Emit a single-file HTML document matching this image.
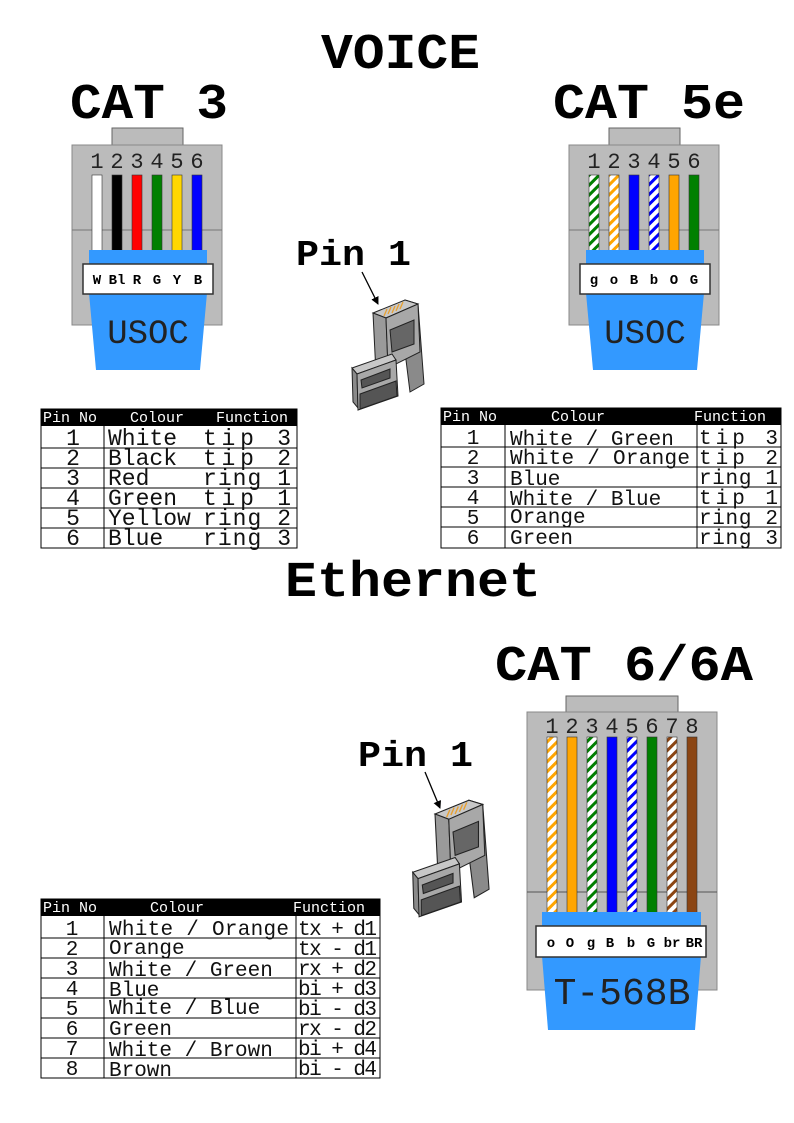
<!DOCTYPE html>
<html><head><meta charset="utf-8"><style>
html,body{margin:0;padding:0;background:#fff}
svg{display:block}
.t{font-family:"Liberation Mono",monospace;font-weight:bold;fill:#000}
.n{font-family:"Liberation Mono",monospace;fill:#222}
.l{font-family:"Liberation Mono",monospace;font-weight:bold;font-size:14px;text-anchor:middle;fill:#000}
.h{font-family:"Liberation Mono",monospace;font-size:15px;fill:#fff;white-space:pre}
.r{font-family:"Liberation Mono",monospace;fill:#111;white-space:pre}
</style></head><body>
<svg width="794" height="1123" viewBox="0 0 794 1123" xmlns="http://www.w3.org/2000/svg">
<defs>
<pattern id="pg" width="7" height="7" patternUnits="userSpaceOnUse" patternTransform="rotate(-45)"><rect width="7" height="7" fill="#fff"/><rect width="7" height="3" fill="#008000"/></pattern>
<pattern id="po" width="7" height="7" patternUnits="userSpaceOnUse" patternTransform="rotate(-45)"><rect width="7" height="7" fill="#fff"/><rect width="7" height="3" fill="#ffa500"/></pattern>
<pattern id="pb" width="7" height="7" patternUnits="userSpaceOnUse" patternTransform="rotate(-45)"><rect width="7" height="7" fill="#fff"/><rect width="7" height="3" fill="#0000ff"/></pattern>
<pattern id="pr" width="7" height="7" patternUnits="userSpaceOnUse" patternTransform="rotate(-45)"><rect width="7" height="7" fill="#fff"/><rect width="7" height="3" fill="#8b4513"/></pattern>
<marker id="ah" markerWidth="8" markerHeight="8" refX="7" refY="4" orient="auto" markerUnits="userSpaceOnUse"><path d="M0,0 L8,4 L0,8 z" fill="#000"/></marker>
<g id="icon">
<polygon points="405,300 418,304 424,384 410,392 406,360" fill="#8a8a8a" stroke="#222" stroke-width="1"/>
<polygon points="373,313 405,300 418,304 386,318" fill="#c8c8c8" stroke="#222" stroke-width="1"/>
<polygon points="373,313 386,318 388,368 376,374" fill="#9a9a9a" stroke="#222" stroke-width="1"/>
<polygon points="386,318 418,304 420,352 388,368" fill="#a8a8a8" stroke="#222" stroke-width="1"/>
<polygon points="390,330 414,320 414,344 392,352" fill="#666" stroke="#222" stroke-width="1"/>
<path d="M384,316 l3,-7 M388,314 l3,-7 M392,313 l3,-7 M396,311 l3,-7 M400,309 l3,-7" stroke="#e8a030" stroke-width="1.3"/>
<polygon points="352,368 392,354 396,360 357,374" fill="#c8c8c8" stroke="#222" stroke-width="1"/>
<polygon points="352,368 357,374 358,408 353,402" fill="#8a8a8a" stroke="#222" stroke-width="1"/>
<polygon points="357,374 396,360 398,396 358,410" fill="#a8a8a8" stroke="#222" stroke-width="1"/>
<polygon points="361,380 390,369 390,378 362,388" fill="#555" stroke="#222" stroke-width="1"/>
<polygon points="360,394 396,381 397,396 360,409" fill="#555" stroke="#222" stroke-width="1"/>
</g>
</defs>

<text class="t" x="321" y="68" font-size="50" textLength="159" lengthAdjust="spacingAndGlyphs">VOICE</text>
<text class="t" x="70" y="118" font-size="50" textLength="158" lengthAdjust="spacingAndGlyphs">CAT 3</text>
<text class="t" x="553" y="118" font-size="50" textLength="192" lengthAdjust="spacingAndGlyphs">CAT 5e</text>
<text class="t" x="285" y="596" font-size="50" textLength="256" lengthAdjust="spacingAndGlyphs">Ethernet</text>
<text class="t" x="495" y="680" font-size="50" textLength="258" lengthAdjust="spacingAndGlyphs">CAT 6/6A</text>
<text class="t" x="296" y="265" font-size="36" textLength="115" lengthAdjust="spacingAndGlyphs">Pin 1</text>
<text class="t" x="358" y="766" font-size="36" textLength="115" lengthAdjust="spacingAndGlyphs">Pin 1</text>

<line x1="362" y1="272" x2="378" y2="304" stroke="#000" stroke-width="1.3" marker-end="url(#ah)"/>
<use href="#icon"/>
<line x1="425" y1="772" x2="440" y2="808" stroke="#000" stroke-width="1.3" marker-end="url(#ah)"/>
<use href="#icon" transform="translate(62,501) translate(373,313) scale(1.06) translate(-373,-313)"/>

<!-- CAT3 -->
<rect x="112" y="128" width="71" height="17" fill="#bbb" stroke="#666"/>
<rect x="72" y="145" width="150" height="180" fill="#bbb" stroke="#888"/>
<line x1="72" y1="230" x2="222" y2="230" stroke="#777"/>
<g class="n" font-size="22" text-anchor="middle">
<text x="97" y="168">1</text><text x="117" y="168">2</text><text x="137" y="168">3</text><text x="157" y="168">4</text><text x="177" y="168">5</text><text x="197" y="168">6</text></g>
<g stroke="#333" stroke-width="0.6">
<rect x="92" y="175" width="10" height="76" fill="#fff"/>
<rect x="112" y="175" width="10" height="76" fill="#000"/>
<rect x="132" y="175" width="10" height="76" fill="#ff0000"/>
<rect x="152" y="175" width="10" height="76" fill="#008000"/>
<rect x="172" y="175" width="10" height="76" fill="#ffd700"/>
<rect x="192" y="175" width="10" height="76" fill="#0000ff"/></g>
<rect x="89" y="250" width="118" height="16" fill="#3399ff"/>
<polygon points="89,293 207,293 200,370 96,370" fill="#3399ff"/>
<rect x="83" y="264" width="130" height="30" fill="#fff" stroke="#333" stroke-width="1.5"/>
<g class="l"><text x="97" y="284">W</text><text x="117" y="284">Bl</text><text x="137" y="284">R</text><text x="157" y="284">G</text><text x="177" y="284">Y</text><text x="198" y="284">B</text></g>
<text class="n" x="148" y="343" font-size="34" text-anchor="middle" fill="#111">USOC</text>

<!-- CAT5e -->
<rect x="609" y="128" width="71" height="17" fill="#bbb" stroke="#666"/>
<rect x="569" y="145" width="150" height="180" fill="#bbb" stroke="#888"/>
<line x1="569" y1="230" x2="719" y2="230" stroke="#777"/>
<g class="n" font-size="22" text-anchor="middle">
<text x="594" y="168">1</text><text x="614" y="168">2</text><text x="634" y="168">3</text><text x="654" y="168">4</text><text x="674" y="168">5</text><text x="694" y="168">6</text></g>
<g stroke="#333" stroke-width="0.6">
<rect x="589" y="175" width="10" height="76" fill="url(#pg)"/>
<rect x="609" y="175" width="10" height="76" fill="url(#po)"/>
<rect x="629" y="175" width="10" height="76" fill="#0000ff"/>
<rect x="649" y="175" width="10" height="76" fill="url(#pb)"/>
<rect x="669" y="175" width="10" height="76" fill="#ffa500"/>
<rect x="689" y="175" width="10" height="76" fill="#008000"/></g>
<rect x="586" y="250" width="118" height="16" fill="#3399ff"/>
<polygon points="586,293 704,293 697,370 593,370" fill="#3399ff"/>
<rect x="580" y="264" width="130" height="30" fill="#fff" stroke="#333" stroke-width="1.5"/>
<g class="l"><text x="594" y="284">g</text><text x="614" y="284">o</text><text x="634" y="284">B</text><text x="654" y="284">b</text><text x="674" y="284">O</text><text x="694" y="284">G</text></g>
<text class="n" x="645" y="343" font-size="34" text-anchor="middle" fill="#111">USOC</text>

<!-- CAT6 -->
<rect x="566" y="696" width="112" height="16" fill="#bbb" stroke="#666"/>
<rect x="527" y="712" width="190" height="278" fill="#bbb" stroke="#888"/>
<line x1="527" y1="892" x2="717" y2="892" stroke="#555"/>
<g class="n" font-size="22" text-anchor="middle">
<text x="552" y="733">1</text><text x="572" y="733">2</text><text x="592" y="733">3</text><text x="612" y="733">4</text><text x="632" y="733">5</text><text x="652" y="733">6</text><text x="672" y="733">7</text><text x="692" y="733">8</text></g>
<g stroke="#333" stroke-width="0.6">
<rect x="547" y="737" width="10" height="176" fill="url(#po)"/>
<rect x="567" y="737" width="10" height="176" fill="#ffa500"/>
<rect x="587" y="737" width="10" height="176" fill="url(#pg)"/>
<rect x="607" y="737" width="10" height="176" fill="#0000ff"/>
<rect x="627" y="737" width="10" height="176" fill="url(#pb)"/>
<rect x="647" y="737" width="10" height="176" fill="#008000"/>
<rect x="667" y="737" width="10" height="176" fill="url(#pr)"/>
<rect x="687" y="737" width="10" height="176" fill="#8b4513"/></g>
<rect x="542" y="912" width="159" height="16" fill="#3399ff"/>
<polygon points="542,956 701,956 695,1030 548,1030" fill="#3399ff"/>
<rect x="536" y="926" width="170" height="31" fill="#fff" stroke="#333" stroke-width="1.5"/>
<g class="l"><text x="551" y="947">o</text><text x="570" y="947">O</text><text x="591" y="947">g</text><text x="610" y="947">B</text><text x="631" y="947">b</text><text x="651" y="947">G</text><text x="672" y="947">br</text><text x="694" y="947">BR</text></g>
<text class="n" x="622" y="1004" font-size="38" text-anchor="middle" fill="#111">T-568B</text>

<!-- Table 1 -->
<rect x="41" y="409" width="256" height="139" fill="#fff" stroke="#000"/>
<rect x="41" y="409" width="256" height="17" fill="#000"/>
<text class="h" x="43" y="422">Pin No</text><text class="h" x="130" y="422">Colour</text><text class="h" x="216" y="422">Function</text>
<g stroke="#000" stroke-width="1"><line x1="41" y1="448" x2="297" y2="448"/><line x1="41" y1="468" x2="297" y2="468"/><line x1="41" y1="488" x2="297" y2="488"/><line x1="41" y1="508" x2="297" y2="508"/><line x1="41" y1="528" x2="297" y2="528"/><line x1="104" y1="426" x2="104" y2="548"/></g>
<g class="r" font-size="23">
<text x="73" y="445" text-anchor="middle">1</text><text x="108" y="445">White</text><text x="203" y="445" textLength="88">tip  3</text>
<text x="73" y="465" text-anchor="middle">2</text><text x="108" y="465">Black</text><text x="203" y="465" textLength="88">tip  2</text>
<text x="73" y="485" text-anchor="middle">3</text><text x="108" y="485">Red</text><text x="203" y="485" textLength="88">ring 1</text>
<text x="73" y="505" text-anchor="middle">4</text><text x="108" y="505">Green</text><text x="203" y="505" textLength="88">tip  1</text>
<text x="73" y="525" text-anchor="middle">5</text><text x="108" y="525">Yellow</text><text x="203" y="525" textLength="88">ring 2</text>
<text x="73" y="545" text-anchor="middle">6</text><text x="108" y="545">Blue</text><text x="203" y="545" textLength="88">ring 3</text></g>

<!-- Table 2 -->
<rect x="441" y="408" width="340" height="140" fill="#fff" stroke="#000"/>
<rect x="441" y="408" width="340" height="17" fill="#000"/>
<text class="h" x="443" y="421">Pin No</text><text class="h" x="551" y="421">Colour</text><text class="h" x="694" y="421">Function</text>
<g stroke="#000" stroke-width="1"><line x1="441" y1="447" x2="781" y2="447"/><line x1="441" y1="467" x2="781" y2="467"/><line x1="441" y1="487" x2="781" y2="487"/><line x1="441" y1="507" x2="781" y2="507"/><line x1="441" y1="527" x2="781" y2="527"/><line x1="505" y1="425" x2="505" y2="548"/><line x1="697" y1="425" x2="697" y2="548"/></g>
<g class="r" font-size="21">
<text x="473" y="444" text-anchor="middle">1</text><text x="510" y="445">White / Green</text><text x="699" y="444" textLength="79">tip   3</text>
<text x="473" y="464" text-anchor="middle">2</text><text x="510" y="464" textLength="180">White / Orange</text><text x="699" y="464" textLength="79">tip   2</text>
<text x="473" y="484" text-anchor="middle">3</text><text x="510" y="485">Blue</text><text x="699" y="484" textLength="79">ring 1</text>
<text x="473" y="504" text-anchor="middle">4</text><text x="510" y="505">White / Blue</text><text x="699" y="504" textLength="79">tip   1</text>
<text x="473" y="524" text-anchor="middle">5</text><text x="510" y="523">Orange</text><text x="699" y="524" textLength="79">ring 2</text>
<text x="473" y="544" text-anchor="middle">6</text><text x="510" y="544">Green</text><text x="699" y="544" textLength="79">ring 3</text></g>

<!-- Table 3 -->
<rect x="41" y="899" width="339" height="179" fill="#fff" stroke="#000"/>
<rect x="41" y="899" width="339" height="17" fill="#000"/>
<text class="h" x="43" y="912">Pin No</text><text class="h" x="150" y="912">Colour</text><text class="h" x="293" y="912">Function</text>
<g stroke="#000" stroke-width="1"><line x1="41" y1="938" x2="380" y2="938"/><line x1="41" y1="958" x2="380" y2="958"/><line x1="41" y1="978" x2="380" y2="978"/><line x1="41" y1="998" x2="380" y2="998"/><line x1="41" y1="1018" x2="380" y2="1018"/><line x1="41" y1="1038" x2="380" y2="1038"/><line x1="41" y1="1058" x2="380" y2="1058"/><line x1="104" y1="916" x2="104" y2="1078"/><line x1="296" y1="916" x2="296" y2="1078"/></g>
<g class="r" font-size="21">
<text x="72" y="935" text-anchor="middle">1</text><text x="109" y="935" textLength="180">White / Orange</text><text x="298" y="935" textLength="79">tx + d1</text>
<text x="72" y="955" text-anchor="middle">2</text><text x="109" y="954">Orange</text><text x="298" y="955" textLength="79">tx - d1</text>
<text x="72" y="975" text-anchor="middle">3</text><text x="109" y="976">White / Green</text><text x="298" y="975" textLength="79">rx + d2</text>
<text x="72" y="995" text-anchor="middle">4</text><text x="109" y="996">Blue</text><text x="298" y="995" textLength="79">bi + d3</text>
<text x="72" y="1015" text-anchor="middle">5</text><text x="109" y="1014">White / Blue</text><text x="298" y="1015" textLength="79">bi - d3</text>
<text x="72" y="1035" text-anchor="middle">6</text><text x="109" y="1035">Green</text><text x="298" y="1035" textLength="79">rx - d2</text>
<text x="72" y="1055" text-anchor="middle">7</text><text x="109" y="1056">White / Brown</text><text x="298" y="1055" textLength="79">bi + d4</text>
<text x="72" y="1075" text-anchor="middle">8</text><text x="109" y="1076">Brown</text><text x="298" y="1075" textLength="79">bi - d4</text></g>
</svg>
</body></html>
